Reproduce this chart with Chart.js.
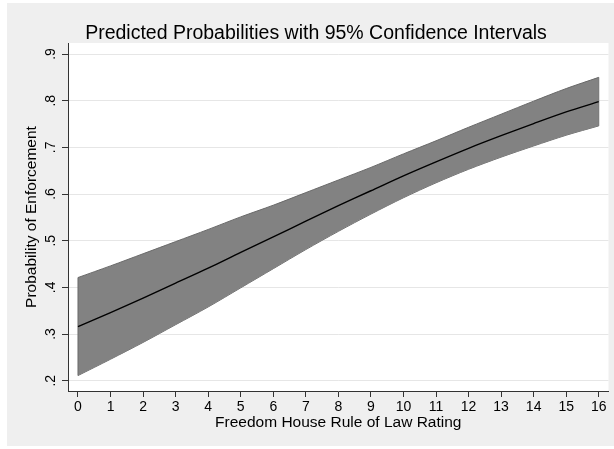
<!DOCTYPE html>
<html>
<head>
<meta charset="utf-8">
<script src="https://cdn.jsdelivr.net/npm/chart.js@4/dist/chart.umd.min.js"></script>
<style>
  html, body { margin: 0; padding: 0; background: #ffffff; }
  canvas { display: block; }
</style>
</head>
<body>
<canvas id="c" width="614" height="449"></canvas>
<script>
// Freedom House Rule of Law rating (x) and predicted probability of enforcement
const ratings   = [0, 1, 2, 3, 4, 5, 6, 7, 8, 9, 10, 11, 12, 13, 14, 15, 16];
const predicted = [0.316, 0.346, 0.377, 0.409, 0.441, 0.475, 0.508, 0.542, 0.575, 0.607, 0.639, 0.669, 0.698, 0.725, 0.751, 0.776, 0.798];
const lowerCI   = [0.211, 0.246, 0.282, 0.320, 0.358, 0.399, 0.440, 0.481, 0.520, 0.557, 0.592, 0.624, 0.653, 0.679, 0.703, 0.726, 0.746];
const upperCI   = [0.421, 0.446, 0.472, 0.498, 0.524, 0.551, 0.576, 0.603, 0.630, 0.657, 0.686, 0.714, 0.743, 0.771, 0.799, 0.826, 0.850];

const xTickValues = [0, 1, 2, 3, 4, 5, 6, 7, 8, 9, 10, 11, 12, 13, 14, 15, 16];
const xTickLabels = ['0', '1', '2', '3', '4', '5', '6', '7', '8', '9', '10', '11', '12', '13', '14', '15', '16'];
const yTickValues = [0.2, 0.3, 0.4, 0.5, 0.6, 0.7, 0.8, 0.9];
const yTickLabels = ['.2', '.3', '.4', '.5', '.6', '.7', '.8', '.9'];

const titleText  = 'Predicted Probabilities with 95% Confidence Intervals';
const xTitleText = 'Freedom House Rule of Law Rating';
const yTitleText = 'Probability of Enforcement';

const FONT = '"Liberation Sans", Arial, Helvetica, sans-serif';
const BAND_FILL = '#828282';
const BAND_EDGE = '#6a6a6a';
const AXIS = '#333333';

const pts = (ys) => ratings.map((x, i) => ({ x: x, y: ys[i] }));
const first = 0, last = ratings.length - 1;

// Background panels, title and rotated y tick labels
const decor = {
  id: 'decor',
  beforeDraw(chart) {
    const { ctx, chartArea: a } = chart;
    ctx.save();
    ctx.fillStyle = '#ffffff';
    ctx.fillRect(0, 0, chart.width, chart.height);
    ctx.fillStyle = '#efefef';
    ctx.fillRect(7, 3, chart.width - 7, chart.height - 6);
    ctx.fillStyle = '#ffffff';
    ctx.fillRect(a.left, a.top, a.right - a.left, a.bottom - a.top);
    ctx.fillStyle = '#000000';
    ctx.font = '19.5px ' + FONT;
    ctx.textAlign = 'center';
    ctx.textBaseline = 'alphabetic';
    ctx.fillText(titleText, 316, 38.5);
    ctx.restore();
  },
  afterDraw(chart) {
    const { ctx } = chart;
    const ys = chart.scales.y;
    ctx.save();
    ctx.fillStyle = '#000000';
    ctx.font = '14px ' + FONT;
    ctx.textAlign = 'center';
    ctx.textBaseline = 'alphabetic';
    yTickValues.forEach((v, i) => {
      const py = ys.getPixelForValue(v);
      ctx.save();
      ctx.translate(55, py);
      ctx.rotate(-Math.PI / 2);
      ctx.fillText(yTickLabels[i], 0, 0);
      ctx.restore();
    });
    ctx.restore();
  }
};

new Chart(document.getElementById('c'), {
  type: 'line',
  data: {
    datasets: [
      // confidence band (drawn underneath: higher order)
      { data: pts(lowerCI), borderColor: BAND_EDGE, borderWidth: 1, fill: false, pointRadius: 0, tension: 0.3, order: 3 },
      { data: pts(upperCI), borderColor: BAND_EDGE, borderWidth: 1, backgroundColor: BAND_FILL, fill: '-1', pointRadius: 0, tension: 0.3, order: 2 },
      { data: [{ x: ratings[first], y: lowerCI[first] }, { x: ratings[first], y: upperCI[first] }], borderColor: BAND_EDGE, borderWidth: 1, fill: false, pointRadius: 0, order: 1 },
      { data: [{ x: ratings[last], y: lowerCI[last] }, { x: ratings[last], y: upperCI[last] }], borderColor: BAND_EDGE, borderWidth: 1, fill: false, pointRadius: 0, order: 1 },
      // predicted probability (on top)
      { data: pts(predicted), borderColor: '#000000', borderWidth: 1.4, fill: false, pointRadius: 0, tension: 0.3, order: 0 }
    ]
  },
  options: {
    responsive: false,
    animation: false,
    events: [],
    layout: { padding: { top: 43, left: 0, right: 5.5, bottom: 0 } },
    plugins: { legend: { display: false }, title: { display: false }, tooltip: { enabled: false } },
    scales: {
      x: {
        type: 'linear',
        min: -0.307,
        max: 16.30,
        afterBuildTicks: (s) => { s.ticks = xTickValues.map(v => ({ value: v })); },
        afterFit: (s) => { s.height = 58; },
        border: { display: true, color: AXIS, width: 1 },
        grid: { drawOnChartArea: false, drawTicks: true, tickLength: 6, tickColor: AXIS },
        ticks: {
          autoSkip: false, maxRotation: 0, minRotation: 0, padding: 2,
          color: '#000000', font: { family: FONT, size: 14 },
          callback: (v) => xTickLabels[xTickValues.indexOf(v)]
        },
        title: {
          display: true, text: xTitleText, color: '#000000',
          font: { family: FONT, size: 15.5 }, padding: { top: 0, bottom: 17 }
        }
      },
      y: {
        type: 'linear',
        min: 0.1779,
        max: 0.9236,
        afterBuildTicks: (s) => { s.ticks = yTickValues.map(v => ({ value: v })); },
        afterFit: (s) => { s.width = 68; },
        border: { display: true, color: AXIS, width: 1 },
        grid: { drawOnChartArea: true, color: '#e6e6e6', lineWidth: 1, drawTicks: true, tickLength: 6, tickColor: AXIS },
        ticks: { display: false },
        title: {
          display: true, text: yTitleText, color: '#000000',
          font: { family: FONT, size: 15.5 }, padding: { top: 22.7, bottom: 0 }
        }
      }
    }
  },
  plugins: [decor]
});
</script>
</body>
</html>
